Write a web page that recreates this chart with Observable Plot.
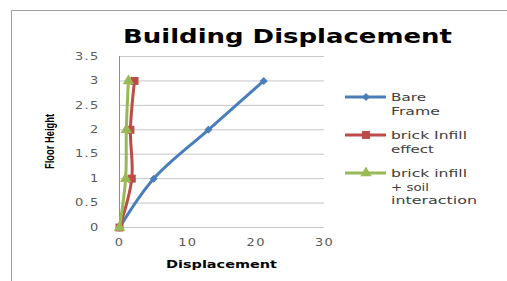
<!DOCTYPE html>
<html><head><meta charset="utf-8">
<script src="https://cdn.jsdelivr.net/npm/d3@7"></script>
<script src="https://cdn.jsdelivr.net/npm/@observablehq/plot@0.6"></script>
<style>
html,body{margin:0;padding:0;background:#fff;}
#wrap{position:relative;width:507px;height:281px;overflow:hidden;background:#fff;}
#frame{position:absolute;left:11px;top:10px;width:600px;height:400px;border-left:1px solid #a0a0a0;border-top:1px solid #a0a0a0;}
#chart,#overlay{position:absolute;left:0;top:0;}
</style>
</head><body>
<div id="wrap"><div id="frame"></div><div id="chart"></div><svg id="overlay" width="507" height="281"></svg></div>
<script>
// ---- data ----
const floors = [0, 1, 2, 3];
const bareFrame = [0, 5.0, 13.0, 21.1];
const brickInfill = [0, 1.8, 1.6, 2.2];
const brickInfillSoil = [0, 0.9, 1.0, 1.3];
const seriesNames = ["Bare Frame", "brick Infill effect", "brick infill + soil interaction"];
const legendLines = [["Bare", "Frame"], ["brick Infill", "effect"], ["brick infill", "+ soil", "interaction"]];
const xTicks = [0, 10, 20, 30];
const yTicks = [0, 0.5, 1, 1.5, 2, 2.5, 3, 3.5];
const titleText = "Building Displacement";
const xLabel = "Displacement";
const yLabel = "Floor Height";

const colors = ["#4a7ebb", "#be4b48", "#98b954"];
const symbols = ["diamond2", "square", "triangle"];
const radii = [3.6, 4.5, 4.2];

const seriesValues = [bareFrame, brickInfill, brickInfillSoil];
const rows = seriesValues.map((vals, s) => floors.map((f, i) => ({series: seriesNames[s], x: vals[i], y: f})));

const marks = [
  Plot.ruleY(yTicks, {stroke: "#c6c6c6", strokeWidth: 1}),
  Plot.ruleX([0], {stroke: "#8c8c8c", strokeWidth: 1}),
  Plot.axisY({ticks: yTicks, tickSize: 0, tickPadding: 20, tickFormat: d => String(d), label: null}),
  Plot.axisX({ticks: xTicks, tickSize: 0, tickPadding: 11, tickFormat: d => String(d), label: null})
];
rows.forEach((r, s) => {
  marks.push(Plot.line(r, {x: "x", y: "y", stroke: colors[s], strokeWidth: 3, curve: "catmull-rom"}));
  marks.push(Plot.dot(r, {x: "x", y: "y", fill: colors[s], stroke: "none", symbol: () => symbols[s], r: radii[s]}));
});

const plot = Plot.plot({
  width: 507, height: 281,
  marginLeft: 119, marginRight: 183, marginTop: 56, marginBottom: 54,
  x: {domain: [0, 30]},
  y: {domain: [0, 3.5]},
  style: {fontFamily: "DejaVu Sans", fontSize: "10px", color: "#5a5a5a", background: "transparent", letterSpacing: "1px"},
  marks
});
document.getElementById("chart").appendChild(plot);
// stretch tick labels horizontally like the reference
d3.select(plot).selectAll('g[aria-label="y-axis tick label"] text, g[aria-label="x-axis tick label"] text').each(function() {
  const t = this.getAttribute("transform") || "";
  this.setAttribute("transform", t + " scale(1.3,1)");
});

// ---- overlay text & legend ----
const ov = d3.select("#overlay");
function txt(x, y, s, size, weight, len, family) {
  const t = ov.append("text").attr("x", x).attr("y", y).text(s)
    .attr("font-family", family || "DejaVu Sans").attr("font-size", size).attr("font-weight", weight)
    .attr("fill", "#000");
  if (len) t.attr("textLength", len).attr("lengthAdjust", "spacingAndGlyphs");
  return t;
}
txt(123, 43, titleText, 19, "bold", 329);
txt(166, 268, xLabel, 10, "bold", 111);
txt(0, 0, yLabel, 13, "bold", 55, "'Liberation Sans', Arial, sans-serif")
  .attr("transform", "translate(54,169) rotate(-90)");

const legY = [97, 135, 173];
const legWidths = [[35, 49], [76, 43], [76, 38, 86]];
const symMap = {diamond2: d3.symbolDiamond2, square: d3.symbolSquare, triangle: d3.symbolTriangle};
legY.forEach((y, s) => {
  ov.append("line").attr("x1", 345).attr("x2", 386).attr("y1", y).attr("y2", y)
    .attr("stroke", colors[s]).attr("stroke-width", 3);
  ov.append("path").attr("transform", `translate(366,${y})`)
    .attr("d", d3.symbol(symMap[symbols[s]], Math.PI * radii[s] * radii[s])())
    .attr("fill", colors[s]);
  legendLines[s].forEach((line, k) => {
    txt(391, y + 4 + k * 13.5, line, 10, "normal", legWidths[s][k]).attr("fill", "#404040");
  });
});
</script>
</body></html>
